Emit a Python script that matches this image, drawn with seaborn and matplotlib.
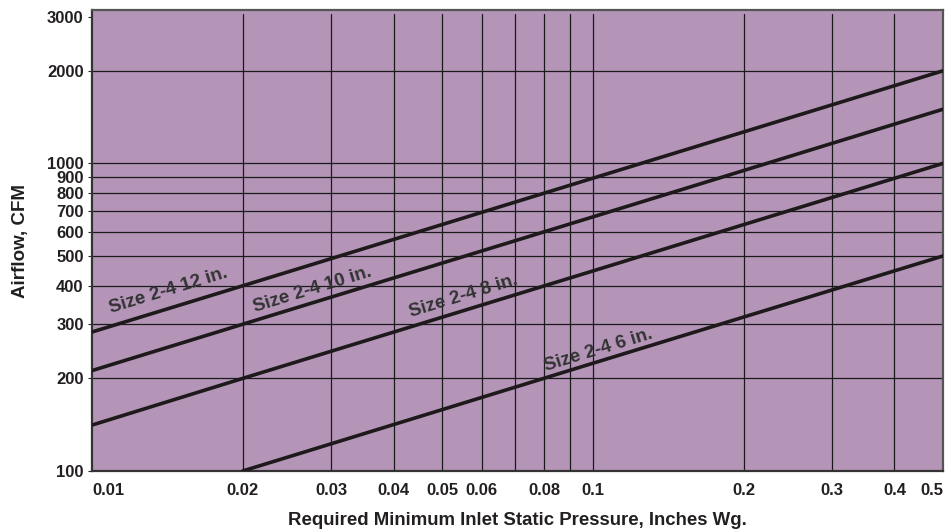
"""
Airflow vs required minimum inlet static pressure (log-log chart).
"""
import math
import pandas as pd
import matplotlib
matplotlib.use("Agg")
import matplotlib.pyplot as plt
from matplotlib.ticker import FixedLocator, FixedFormatter, NullLocator
import seaborn as sns

# values
pressure = [0.01, 0.02, 0.1, 0.5]
airflow_12 = [283, 400, 895, 2000]
airflow_10 = [212, 300, 670, 1500]
airflow_8 = [141, 200, 447, 1000]
pressure_6 = [0.02, 0.1, 0.5]
airflow_6 = [100, 224, 500]

sizes = ["Size 2-4 12 in.", "Size 2-4 10 in.", "Size 2-4 8 in.", "Size 2-4 6 in."]
label_x = [0.0142, 0.0276, 0.0553, 0.1027]
label_y = [387, 390, 370, 247]

x_ticks = [0.01, 0.02, 0.03, 0.04, 0.05, 0.06, 0.08, 0.1, 0.2, 0.3, 0.4, 0.5]
x_tick_labels = ["0.01", "0.02", "0.03", "0.04", "0.05", "0.06", "0.08",
                 "0.1", "0.2", "0.3", "0.4", "0.5"]
x_grid = [0.02, 0.03, 0.04, 0.05, 0.06, 0.07, 0.08, 0.09, 0.1, 0.2, 0.3, 0.4]
y_ticks = [100, 200, 300, 400, 500, 600, 700, 800, 900, 1000, 2000, 3000]
y_grid = [200, 300, 400, 500, 600, 700, 800, 900, 1000, 2000]


def main():
    sns.set_style("white")
    plt.rcParams['font.family'] = ['Liberation Sans', 'DejaVu Sans']
    plt.rcParams['font.weight'] = 'bold'

    df = pd.concat([
        pd.DataFrame({"pressure": pressure, "airflow": airflow_12, "size": sizes[0]}),
        pd.DataFrame({"pressure": pressure, "airflow": airflow_10, "size": sizes[1]}),
        pd.DataFrame({"pressure": pressure, "airflow": airflow_8, "size": sizes[2]}),
        pd.DataFrame({"pressure": pressure_6, "airflow": airflow_6, "size": sizes[3]}),
    ])

    fig = plt.figure(figsize=(9.51, 5.32), dpi=100)
    ax = fig.add_axes([0.0967, 0.1147, 0.8949, 0.8663])
    ax.set_facecolor('#b495b8')
    ax.set_xscale('log')
    ax.set_yscale('log')
    ax.set_xlim(0.01, 0.5)
    ax.set_ylim(100, 3150)

    # grid lines
    for gx in x_grid:
        ax.axvline(gx, ymax=0.991, color='#1a1a1a', lw=0.9, zorder=1)
    for gy in y_grid:
        ax.axhline(gy, color='#1a1a1a', lw=0.9, zorder=1)

    sns.lineplot(data=df, x="pressure", y="airflow", units="size",
                 estimator=None, color='#1e1a1b', lw=2.6, ax=ax, zorder=3,
                 legend=False)

    # labels along the lines
    p1 = ax.transData.transform((0.01, airflow_12[0]))
    p2 = ax.transData.transform((0.5, airflow_12[-1]))
    angle = math.degrees(math.atan2(p2[1] - p1[1], p2[0] - p1[0]))
    for txt, lx, ly in zip(sizes, label_x, label_y):
        ax.text(lx, ly, txt, rotation=angle, rotation_mode='anchor',
                ha='center', va='center', fontsize=13.5, fontweight='bold',
                color='#333333', zorder=4)

    ax.xaxis.set_major_locator(FixedLocator(x_ticks))
    ax.xaxis.set_major_formatter(FixedFormatter(x_tick_labels))
    ax.xaxis.set_minor_locator(NullLocator())
    ax.yaxis.set_major_locator(FixedLocator(y_ticks))
    ax.yaxis.set_major_formatter(FixedFormatter([str(v) for v in y_ticks]))
    ax.yaxis.set_minor_locator(NullLocator())
    ax.tick_params(axis='x', length=0, pad=9, labelsize=12, labelcolor='#231f20')
    ax.tick_params(axis='y', length=3, width=0.8, pad=3, labelsize=12,
                   labelcolor='#231f20', left=True)
    xl = ax.get_xticklabels()
    xl[0].set_horizontalalignment('left')
    xl[-1].set_horizontalalignment('right')

    for side in ['left', 'bottom']:
        ax.spines[side].set_color('#333333')
        ax.spines[side].set_linewidth(1.6)
    for side in ['top', 'right']:
        ax.spines[side].set_color('#555555')
        ax.spines[side].set_linewidth(1.6)

    ax.set_xlabel('Required Minimum Inlet Static Pressure, Inches Wg.',
                  fontsize=13.4, fontweight='bold', color='#231f20', labelpad=10)
    ax.set_ylabel('Airflow, CFM', fontsize=13.5, fontweight='bold',
                  color='#231f20', labelpad=13)

    fig.savefig('out.png', dpi=100)


if __name__ == "__main__":
    main()
